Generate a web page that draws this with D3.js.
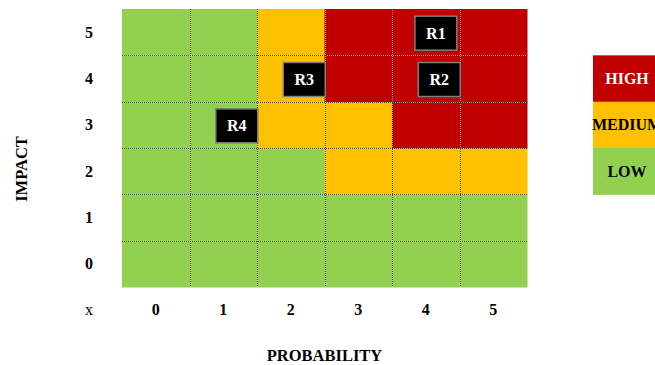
<!DOCTYPE html>
<html>
<head>
<meta charset="utf-8">
<script src="https://cdn.jsdelivr.net/npm/d3@7"></script>
<style>
  html, body { margin: 0; padding: 0; background: #fff; }
  svg { display: block; font-family: "Liberation Serif", "Times New Roman", serif; }
</style>
</head>
<body>
<svg id="chart" width="655" height="365"></svg>
<script>
// Probability (columns) and impact (rows) levels
const probabilityLevels = [0, 1, 2, 3, 4, 5];
const impactLevels = [0, 1, 2, 3, 4, 5];

// Risk level per cell, one row per impact level (0 at the bottom)
const riskGrid = [
  ["LOW", "LOW", "LOW", "LOW", "LOW", "LOW"],          // impact 0
  ["LOW", "LOW", "LOW", "LOW", "LOW", "LOW"],          // impact 1
  ["LOW", "LOW", "LOW", "MEDIUM", "MEDIUM", "MEDIUM"], // impact 2
  ["LOW", "LOW", "MEDIUM", "MEDIUM", "HIGH", "HIGH"],  // impact 3
  ["LOW", "LOW", "MEDIUM", "HIGH", "HIGH", "HIGH"],    // impact 4
  ["LOW", "LOW", "MEDIUM", "HIGH", "HIGH", "HIGH"]     // impact 5
];

// Individual risks placed on the matrix
const riskNames = ["R1", "R2", "R3", "R4"];
const riskProbability = [4.15, 4.2, 2.2, 1.2];
const riskImpact = [5, 4, 4, 3];

// Legend entries, top to bottom
const legendLevels = ["HIGH", "MEDIUM", "LOW"];
const legendRows = [4, 3, 2];

const levelColor = { HIGH: "#C00000", MEDIUM: "#FFC000", LOW: "#92D050" };
const levelText = { HIGH: "#ffffff", MEDIUM: "#000000", LOW: "#000000" };

const svg = d3.select("#chart");
const gLeft = 122, gRight = 527, gTop = 9, gBottom = 287;

const xBand = d3.scaleBand().domain(probabilityLevels).range([gLeft, gRight]);
const yBand = d3.scaleBand().domain(impactLevels).range([gBottom, gTop]);
const x = d3.scaleLinear().domain([-0.5, 5.5]).range([gLeft, gRight]);
const y = d3.scaleLinear().domain([-0.5, 5.5]).range([gBottom, gTop]);

// Matrix cells
const cells = [];
impactLevels.forEach((imp, r) => probabilityLevels.forEach((p, c) => {
  cells.push({ p, imp, level: riskGrid[r][c] });
}));
svg.append("g").selectAll("rect").data(cells).join("rect")
  .attr("x", d => xBand(d.p))
  .attr("y", d => yBand(d.imp))
  .attr("width", xBand.bandwidth() + 0.5)
  .attr("height", yBand.bandwidth() + 0.5)
  .attr("fill", d => levelColor[d.level]);

// Dotted grid lines between cells
const grid = svg.append("g");
const vLines = probabilityLevels.slice(1).map(p => xBand(p));
const hLines = impactLevels.slice(1).map(i => yBand(i) + yBand.bandwidth());
function dotted(sel, color, offset, opacity) {
  sel.attr("stroke", color).attr("stroke-width", 1)
    .attr("stroke-dasharray", "1,1").attr("stroke-dashoffset", offset)
    .attr("stroke-opacity", opacity).attr("shape-rendering", "crispEdges");
}
[["#ffffff", 1, 0.55], ["#111111", 0, 0.75]].forEach(([col, off, op]) => {
  grid.append("g").selectAll("line").data(vLines).join("line")
    .attr("x1", d => Math.round(d) + 0.5).attr("x2", d => Math.round(d) + 0.5)
    .attr("y1", gTop).attr("y2", gBottom)
    .call(dotted, col, off, op);
  grid.append("g").selectAll("line").data(hLines).join("line")
    .attr("x1", gLeft).attr("x2", gRight)
    .attr("y1", d => Math.round(d) + 0.5).attr("y2", d => Math.round(d) + 0.5)
    .call(dotted, col, off, op);
});

// Axes (labels only)
const xAxis = svg.append("g")
  .attr("transform", `translate(0,${gBottom + 17})`)
  .call(d3.axisBottom(xBand).tickSize(0).tickPadding(0));
const yAxis = svg.append("g")
  .attr("transform", `translate(${gLeft - 33},0)`)
  .call(d3.axisLeft(yBand).tickSize(0).tickPadding(0));
[xAxis, yAxis].forEach(a => {
  a.select(".domain").remove();
  a.selectAll("text")
    .attr("font-family", "Liberation Serif, Times New Roman, serif")
    .attr("font-size", 16).attr("font-weight", "bold").attr("fill", "#000");
});
yAxis.selectAll("text").attr("text-anchor", "middle").attr("x", 0).attr("dy", "0.35em");
xAxis.selectAll("text").attr("dy", "0.71em");

// Corner marker
svg.append("text").attr("x", 89).attr("y", gBottom + 17).attr("dy", "0.71em")
  .attr("text-anchor", "middle").attr("font-size", 16).text("x");

// Axis titles
svg.append("text")
  .attr("x", (gLeft + gRight) / 2).attr("y", 361)
  .attr("text-anchor", "middle").attr("font-size", 16.5).attr("font-weight", "bold")
  .text("PROBABILITY");
svg.append("text")
  .attr("transform", `translate(27,${(gTop + gBottom) / 2 + 21}) rotate(-90)`)
  .attr("text-anchor", "middle").attr("font-size", 16.5).attr("font-weight", "bold")
  .text("IMPACT");

// Risk markers
const risks = riskNames.map((n, i) => ({ n, p: riskProbability[i], imp: riskImpact[i] }));
const bw = 42, bh = 34;
const rg = svg.append("g").selectAll("g").data(risks).join("g")
  .attr("transform", d => `translate(${x(d.p)},${y(d.imp) + 1})`);
rg.append("rect")
  .attr("x", -bw / 2).attr("y", -bh / 2).attr("width", bw).attr("height", bh)
  .attr("fill", "#000").attr("stroke", "#7f7f7f").attr("stroke-width", 1.5);
rg.append("text")
  .attr("text-anchor", "middle").attr("dy", "0.35em")
  .attr("fill", "#fff").attr("font-size", 16).attr("font-weight", "bold")
  .text(d => d.n);

// Legend
const lg = svg.append("g").selectAll("g").data(legendLevels.map((l, i) => ({ l, r: legendRows[i] }))).join("g");
lg.append("rect")
  .attr("x", 593).attr("y", d => yBand(d.r))
  .attr("width", 70).attr("height", yBand.bandwidth() + 0.5)
  .attr("fill", d => levelColor[d.l]);
lg.append("text")
  .attr("x", 627).attr("y", d => yBand(d.r) + yBand.bandwidth() / 2)
  .attr("dy", "0.35em").attr("text-anchor", "middle")
  .attr("font-size", 16).attr("font-weight", "bold")
  .attr("fill", d => levelText[d.l])
  .text(d => d.l);
</script>
</body>
</html>
